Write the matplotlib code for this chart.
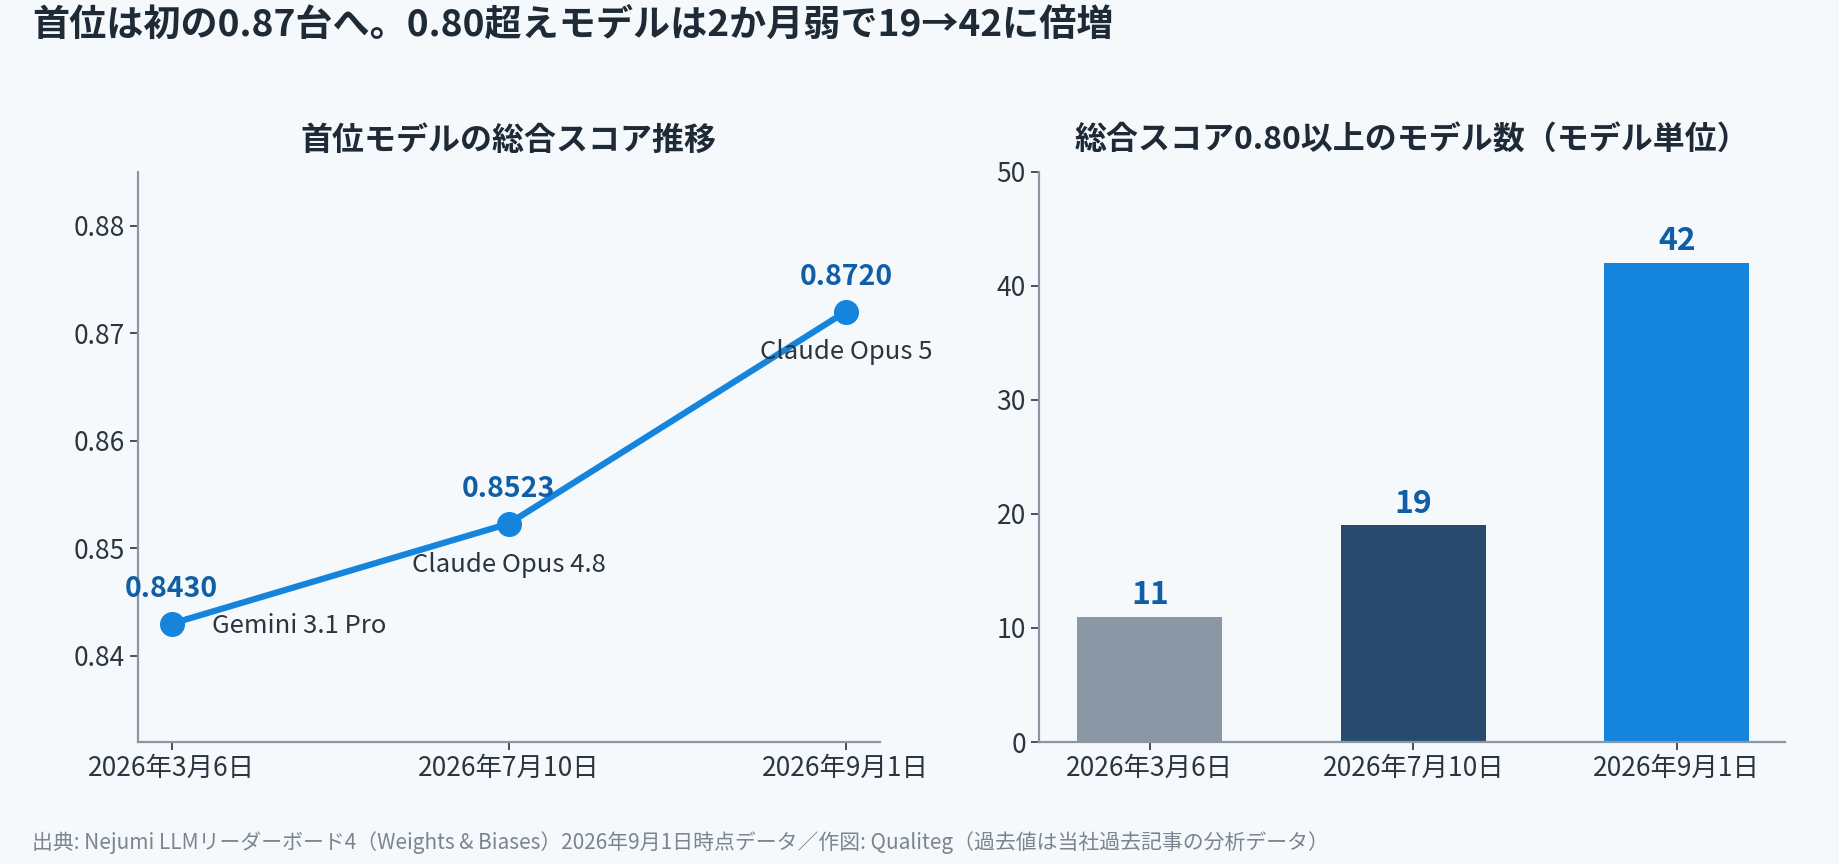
import matplotlib
matplotlib.use("Agg")
import matplotlib.pyplot as plt

plt.rcParams['font.family'] = ['Noto Sans CJK JP', 'DejaVu Sans']

# data
dates = ['2026年3月6日', '2026年7月10日', '2026年9月1日']
top_scores = [0.8430, 0.8523, 0.8720]
top_models = ['Gemini 3.1 Pro', 'Claude Opus 4.8', 'Claude Opus 5']
count_over_080 = [11, 19, 42]

bg = '#F5F9FC'
text_dark = '#1E2A36'
line_blue = '#1484DC'
label_blue = '#0F5EA6'
bar_colors = ['#8B97A5', '#284B6D', '#1484DC']
spine_gray = '#8A96A3'

fig = plt.figure(figsize=(18.4, 8.64), dpi=100, facecolor=bg)

ax1 = fig.add_axes([0.075, 0.1412, 0.403, 0.66], facecolor=bg)
ax2 = fig.add_axes([0.5647, 0.1412, 0.4054, 0.66], facecolor=bg)

for ax in (ax1, ax2):
    for s in ('top', 'right'):
        ax.spines[s].set_visible(False)
    for s in ('left', 'bottom'):
        ax.spines[s].set_color(spine_gray)
        ax.spines[s].set_linewidth(1.6)
    ax.tick_params(labelsize=19, colors='#2B3540', length=6, width=1.2)

# left: top model score
x = list(range(len(dates)))
ax1.plot(x, top_scores, color=line_blue, lw=4.5, marker='o', ms=17, zorder=3)
ax1.set_xlim(-0.1, 2.1)
ax1.set_ylim(0.832, 0.885)
ax1.set_yticks([0.84, 0.85, 0.86, 0.87, 0.88])
ax1.set_xticks(x)
ax1.set_xticklabels(dates)
ax1.set_title('首位モデルの総合スコア推移', fontsize=23, fontweight='bold',
              color=text_dark, pad=16)

for i, v in enumerate(top_scores):
    ax1.annotate(f'{v:.4f}', (i, v), xytext=(0, 25), textcoords='offset points',
                 ha='center', va='center', fontsize=20.5, fontweight='bold',
                 color=label_blue)

# model names
name_offsets = [(29, -2, 'left'), (0, -30, 'center'), (0, -29, 'center')]
for i, (name, (dx, dy, ha)) in enumerate(zip(top_models, name_offsets)):
    ax1.annotate(name, (i, top_scores[i]), xytext=(dx, dy), textcoords='offset points',
                 ha=ha, va='center', fontsize=18.5, color='#2B3540')

# right: count of models >= 0.80
ax2.bar(x, count_over_080, width=0.55, color=bar_colors, zorder=2)
ax2.set_xlim(-0.42, 2.41)
ax2.set_ylim(0, 50)
ax2.set_yticks([0, 10, 20, 30, 40, 50])
ax2.set_xticks(x)
ax2.set_xticklabels(dates)
ax2.set_title('総合スコア0.80以上のモデル数（モデル単位）', fontsize=23, fontweight='bold',
              color=text_dark, pad=16)
for i, v in enumerate(count_over_080):
    ax2.annotate(str(v), (i, v), xytext=(0, 4), textcoords='offset points',
                 ha='center', va='bottom', fontsize=23, fontweight='bold',
                 color=label_blue)

fig.text(0.0174, 1 - 26 / 864, '首位は初の0.87台へ。0.80超えモデルは2か月弱で19→42に倍増',
         fontsize=26.7, fontweight='bold', color=text_dark, ha='left', va='center')
fig.text(0.0174, 1 - 843 / 864,
         '出典: Nejumi LLMリーダーボード4（Weights & Biases）2026年9月1日時点データ／作図: Qualiteg（過去値は当社過去記事の分析データ）',
         fontsize=15, color='#7A8591', ha='left', va='center')

fig.savefig('out.png', dpi=100, facecolor=bg)
plt.close(fig)
